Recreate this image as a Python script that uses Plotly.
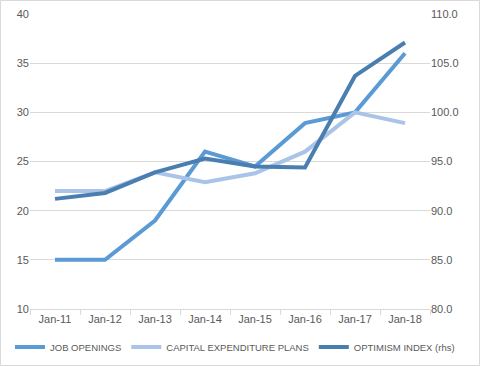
import plotly.graph_objects as go

categories = ["Jan-11", "Jan-12", "Jan-13", "Jan-14", "Jan-15", "Jan-16", "Jan-17", "Jan-18"]
job_openings = [15, 15, 19, 26, 24.5, 28.9, 30, 36]
capex_plans = [22, 22, 23.9, 22.9, 23.8, 26, 30, 28.9]
optimism_index = [91.2, 91.8, 93.9, 95.3, 94.5, 94.4, 103.7, 107.1]

left_ticks = [10, 15, 20, 25, 30, 35, 40]
right_ticks = [80, 85, 90, 95, 100, 105, 110]

font = dict(family="Liberation Sans, Arial, sans-serif", size=11, color="#595959")

fig = go.Figure()
fig.add_trace(go.Scatter(x=categories, y=job_openings, name="JOB OPENINGS", mode="lines",
                         line=dict(color="#5B9BD5", width=4)))
fig.add_trace(go.Scatter(x=categories, y=capex_plans, name="CAPITAL EXPENDITURE PLANS", mode="lines",
                         line=dict(color="#A9C4E8", width=4)))
fig.add_trace(go.Scatter(x=categories, y=optimism_index, name="OPTIMISM INDEX (rhs)", mode="lines",
                         line=dict(color="#4A7EB0", width=4), yaxis="y2"))

fig.update_layout(
    width=480, height=366,
    margin=dict(l=30, r=50, t=14, b=57, autoexpand=False),
    paper_bgcolor="white", plot_bgcolor="white",
    font=font,
    showlegend=True,
    legend=dict(orientation="h", xref="paper", yref="paper",
                x=1.075, xanchor="right", y=-38/295, yanchor="middle",
                font=dict(size=9.5, color="#595959"), itemwidth=30, tracegroupgap=0,
                bgcolor="rgba(0,0,0,0)", borderwidth=0),
    xaxis=dict(type="category", range=[-0.5, 7.5], showgrid=False, showline=True,
               linecolor="#D9D9D9", ticks="outside", tickson="boundaries", ticklen=5,
               tickcolor="#D9D9D9", tickfont=font),
    yaxis=dict(range=[10, 40], tickvals=left_ticks, showgrid=True, gridcolor="#D9D9D9",
               zeroline=False, showline=False, tickfont=font, ticks=""),
    yaxis2=dict(range=[80, 110], tickvals=right_ticks, overlaying="y", side="right",
                showgrid=False, zeroline=False, showline=False, tickformat=".1f",
                tickfont=font, ticks=""),
    shapes=[dict(type="rect", xref="paper", yref="paper", x0=-29.5/400, x1=1+49.5/400,
                 y0=-56.5/295, y1=1+13.5/295, line=dict(color="#D9D9D9", width=1))],
)

fig.write_html("out.html", config={"displayModeBar": False},
               post_script="document.body.style.margin='0px';")
